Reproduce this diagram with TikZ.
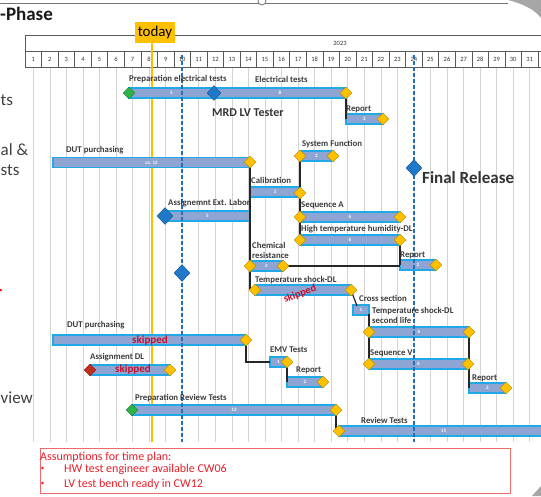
\documentclass[tikz,border=0pt]{standalone}
\usepackage{fontspec}
\setmainfont{Carlito}
\usetikzlibrary{shapes.geometric}
\definecolor{barfill}{HTML}{8EA4D2}
\definecolor{barline}{HTML}{1FA9E6}
\definecolor{msyel}{HTML}{FFC000}
\definecolor{msgrn}{HTML}{2DB34A}
\definecolor{msblu}{HTML}{1F78C8}
\definecolor{msred}{HTML}{C03020}
\definecolor{lbl}{HTML}{3B3B3B}
\definecolor{skipred}{HTML}{C8102E}
\definecolor{todayor}{HTML}{FFC000}
\definecolor{dashblue}{HTML}{2470B8}
\definecolor{boxred}{HTML}{F06A6A}
\definecolor{asmred}{HTML}{E8202A}
\begin{document}
\begin{tikzpicture}[x=1pt,y=-1pt,
  taskbar/.style={fill=barfill,draw=barline,line width=1.3pt},
  ms/.style={diamond,draw=#1!70!black,fill=#1,line width=0.4pt,inner sep=0pt,minimum width=12pt,minimum height=12pt},
  msbig/.style={ms=#1,minimum width=16pt,minimum height=17pt},
  tasklbl/.style={anchor=west,inner sep=0pt,align=left,font=\bfseries\fontsize{8.8}{10.8}\selectfont,text=lbl},
  barnum/.style={inner sep=0pt,font=\bfseries\fontsize{5}{5}\selectfont,text=white},
  skiptxt/.style={inner sep=0pt,font=\bfseries\fontsize{11}{11}\selectfont,text=skipred},
  link/.style={draw=black!85,line width=1.2pt},
  sidelbl/.style={anchor=west,inner sep=0pt,font=\fontsize{17}{17}\selectfont,text=black!75},
  gridln/.style={draw=black!17,line width=0.6pt},
  dashln/.style={draw=dashblue,line width=1.2pt,dash pattern=on 4pt off 2pt},
  hdr/.style={draw=black!65,line width=0.7pt,fill=white},
  asmtxt/.style={anchor=west,inner sep=0pt,font=\fontsize{12}{12}\selectfont,text=asmred}]
\useasboundingbox (0,0) rectangle (541,496);
\fill[white] (0,0) rectangle (541,496);
\pgfmathsetmacro\wkw{16.55}
\pgfmathsetmacro\wko{25}
\draw[black!55,line width=0.8pt] (-5,3) -- (508,3);
\draw[black!55,fill=white,line width=0.8pt] (262,1) circle (4);
\fill[black!35] (508,0) .. controls (524,4) and (535,10) .. (541,18) -- (541,0) -- cycle;
\fill[black!35] (541,486) -- (541,496) -- (532,496) -- cycle;
\node[anchor=west,inner sep=0pt,font=\bfseries\fontsize{19}{19}\selectfont,text=black!90] (phase) at (0,14) {-Phase};
\node[sidelbl] (side1) at (0.5,100) {ts};
\node[sidelbl] (side2) at (0.5,150) {al \&};
\node[sidelbl] (side3) at (0.5,170) {sts};
\node[sidelbl] (side4) at (0.5,398) {view};
\fill[red] (0.8,290) circle (1.3);
\foreach \n in {1,...,31} \draw[gridln] ({\wko+\wkw*(\n-0.5)},67) -- ++(0,375);
\draw[hdr] (\wko,35) rectangle (545,51);
\node[inner sep=0pt,font=\fontsize{6.5}{6.5}\selectfont,text=black!80] (year) at (340,43) {2023};
\foreach \n in {1,...,32} \draw[hdr] ({\wko+\wkw*(\n-1)},51) rectangle ++(\wkw,16);
\foreach \n in {1,...,31} \node[inner sep=0pt,font=\fontsize{6.5}{6.5}\selectfont,text=black!80] (wk\n) at ({\wko+\wkw*(\n-0.5)},59) {\n};
\draw[msyel!95!orange,line width=2pt] (151.5,43) -- (151.5,442);
\node[fill=todayor,inner sep=0pt,minimum width=40pt,minimum height=21.6pt,font=\fontsize{15}{15}\selectfont] (today) at (155,32.5) {today};
\foreach \a/\b/\c/\t in {129/214/93/5,214/346/93/8,346/383/119/2,53/250/162.5/ca. 12,300/333/156/2,250/300/192/3,165/250/216/5,300/400/217/6,300/400/240/6,250/283/266/2,400/436/265/2,255/351/290/,353/369/310/1,369/469/332/6,369/468/364/6,469/506/388/2,53/246/340/,270/287/362/1,287/323/382/2,90/170/370/,132/336/410/12,339/548/431/15}
  \draw[taskbar] (\a,\c-5) rectangle node[barnum]{\t} (\b,\c+5);
\foreach \x in {182,414} \draw[dashln] (\x,55) -- (\x,442);
\node[skiptxt] (skip1) at (150,340) {skipped};
\node[skiptxt] (skip2) at (133,369) {skipped};
\node[skiptxt,font=\bfseries\fontsize{10.5}{10.5}\selectfont,rotate=20] (skip3) at (300,294) {skipped};
\node[ms=msgrn] (pe0) at (129,93) {};
\node[ms=msblu,minimum width=14pt,minimum height=15pt] (pe1) at (214,93) {};
\node[msbig=msblu] (ext0) at (165,216) {};
\node[msbig=msblu] (fin) at (414,168) {};
\node[msbig=msblu] (wkx) at (182,273) {};
\node[ms=msred] (adl0) at (90,370) {};
\node[ms=msgrn] (prt0) at (132,410) {};
\coordinate (rp1s) at (346,119);
\coordinate (cs0) at (357,306);
\coordinate (cs1) at (369,314);
\coordinate (rp3s) at (469,388);
\coordinate (emv0) at (270,362);
\foreach \nm/\x/\y in {el1/346/93,rp1/383/119,dut1/250/162,sf0/300/156,sf1/333/156,cal1/300/193,sqa0/300/217,sqa1/400/217,ht0/300/240,ht1/400/240,chr0/250/266,chr1/283/266,rp2/436/265,tsd0/255/290,tsd1/351/290,tsl0/369/332,tsl1/469/332,sqv0/369/364,sqv1/468/364,rp3/506/388,dut2/246/340,emv1/287/362,rp4/323/382,adl1/170/370,prt1/336/410,rvt0/339/431}
  \coordinate (\nm) at (\x,\y);
\draw[link] (el1) -- (rp1s);
\draw[link] (dut1) -- (dut1 |- tsd0);
\draw[link] (sf0) -- (ht0);
\draw[link] (ht1) -- (ht1 |- rp2);
\draw[link] (chr1) -- (chr1 -| ht1);
\draw[link] (tsd1.east) -- (cs0);
\draw[link] (cs1) -- (sqv0);
\draw[link] (tsl1) -- (rp3s);
\draw[link] (dut2) |- (emv0);
\draw[link] (emv1) -- (emv1 |- rp4);
\draw[link] (prt1) -- (prt1 |- rvt0);
\foreach \nm in {el1,rp1,dut1,sf0,sf1,cal1,sqa0,sqa1,ht0,ht1,chr0,chr1,rp2,tsd0,tsd1,tsl0,tsl1,sqv0,sqv1,rp3,dut2,emv1,rp4,adl1,prt1,rvt0}
  \node[ms=msyel] (\nm) at (\nm) {};
\foreach \x/\y/\t [count=\i] in {129/79/Preparation electrical tests,255/79/Electrical tests,346/109/Report,66/150/DUT purchasing,302/144/System Function,251/180/Calibration,168/203/Assignemnt Ext. Labor,301/205/Sequence A,301/229/High temperature humidity-DL,252/250.5/Chemical\\resistance,400/255/Report,255/280/Temperature shock-DL,359/298/Cross section,372/315.5/Temperature shock-DL\\second life,67/325/DUT purchasing,270/350/EMV Tests,90/357/Assignment DL,370/353/Sequence V,296/370/Report,472/378/Report,135/398/Preparation Review Tests,361/420/Review Tests}
  \node[tasklbl] (lbl\i) at (\x,\y) {\t};
\node[anchor=west,inner sep=0pt,font=\bfseries\fontsize{12}{12}\selectfont,text=black!80] (mrd) at (212,113) {MRD LV Tester};
\node[anchor=west,inner sep=0pt,font=\bfseries\fontsize{17}{17}\selectfont,text=black!80] (finlbl) at (422,178) {Final Release};
\draw[boxred,line width=1pt] (40,448) rectangle (510,493);
\node[asmtxt] (asm) at (40,457) {Assumptions for time plan:};
\foreach \y/\t [count=\i] in {469/HW test engineer available CW06,484/LV test bench ready in CW12} {
  \node[inner sep=0pt,font=\fontsize{7}{7}\selectfont,text=asmred] (bul\i) at (42.5,\y) {•};
  \node[asmtxt] (asm\i) at (64,\y) {\t};
}
\end{tikzpicture}
\end{document}
